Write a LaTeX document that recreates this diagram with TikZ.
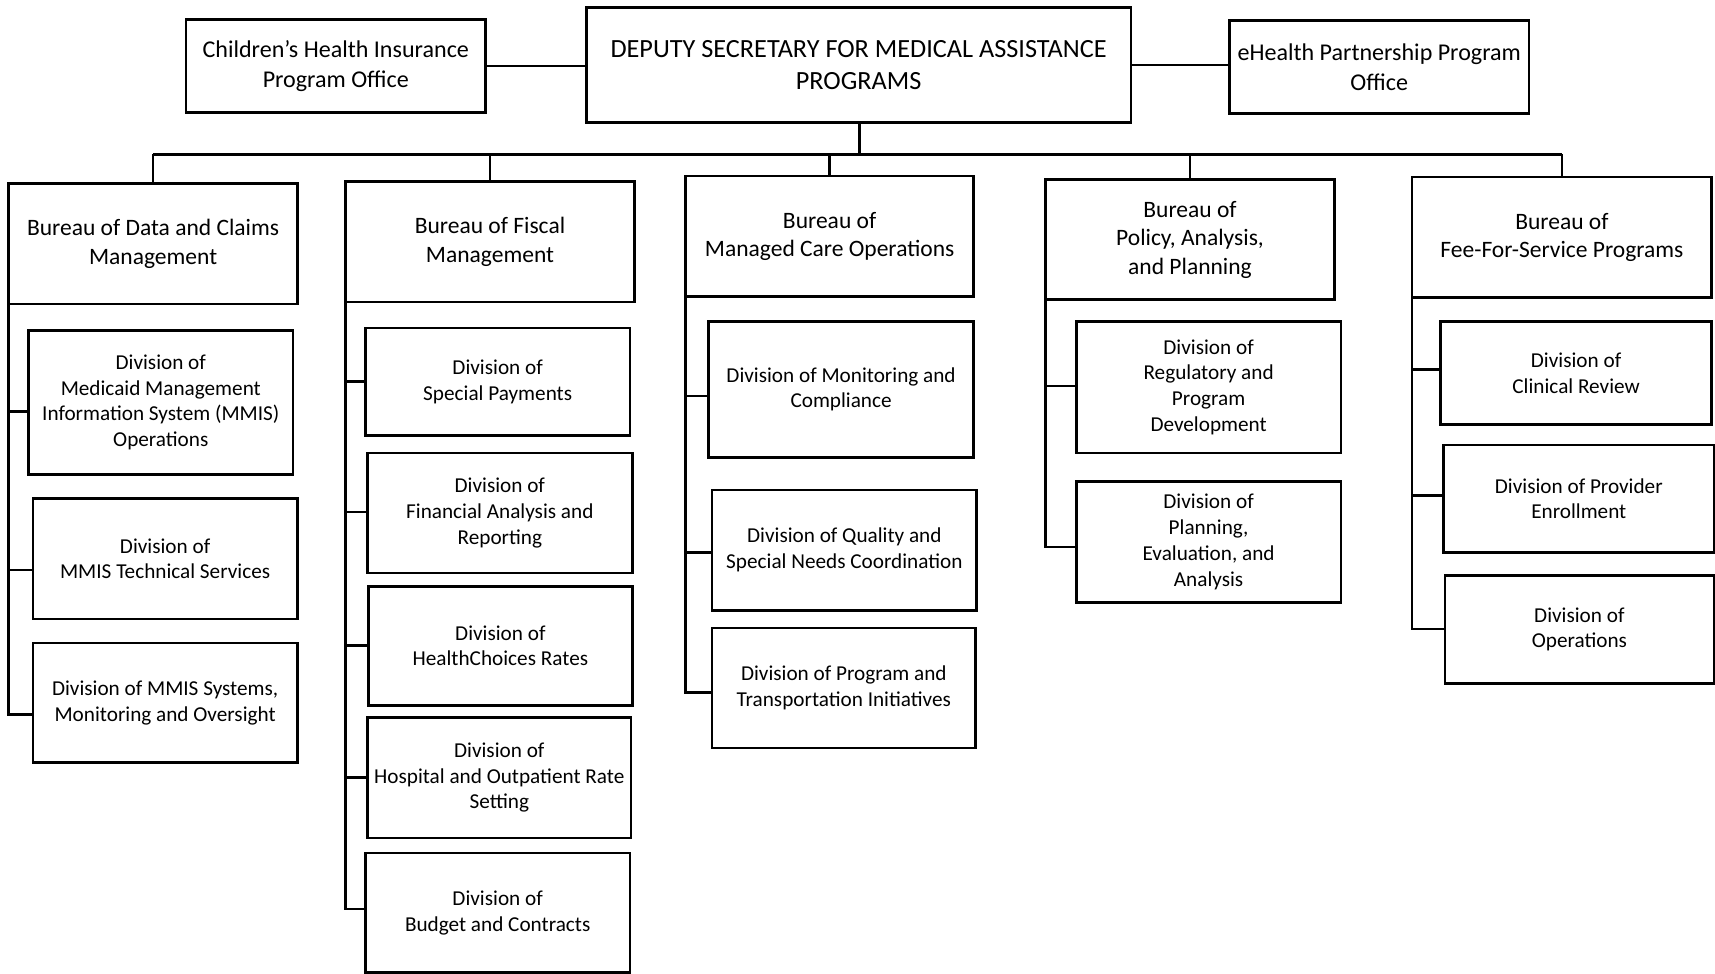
\documentclass[tikz,border=0pt]{standalone}
\usepackage{fontspec}
\setmainfont{Carlito}
\begin{document}
\begin{tikzpicture}[x=1pt,y=-1pt,
  box/.style={draw, line width=2.4pt, inner sep=0pt, outer sep=0pt, align=center},
  divbox/.style={box, font=\fontsize{19.4}{23.5}\selectfont},
  burbox/.style={box, font=\fontsize{21.5}{26}\selectfont},
  topbox/.style={box, font=\fontsize{22}{27}\selectfont},
  depbox/.style={box, font=\fontsize{24}{29}\selectfont},
  link/.style={line width=2.4pt}]
\useasboundingbox (0,0) rectangle (1568,890);
\newcommand\placebox[7]{\node[#1, minimum width={#5pt-#3pt}, minimum height={#6pt-#4pt}] (#2) at ({(#3+#5)/2},{(#4+#6)/2}) {#7};}
% top
\placebox{topbox}{chip}{170}{18}{444}{103}{Children’s Health Insurance\\Program Office}
\placebox{depbox}{dep}{536}{7}{1034}{112}{DEPUTY SECRETARY FOR MEDICAL ASSISTANCE\\PROGRAMS}
\placebox{topbox}{eh}{1124}{19}{1398}{104}{eHealth Partnership Program\\Office}
% bureaus
\placebox{burbox}{b1}{8}{168}{272}{278}{Bureau of Data and Claims\\Management}
\placebox{burbox}{b2}{316}{166}{580}{276}{Bureau of Fiscal\\Management}
\placebox{burbox}{b3}{627}{161}{890}{271}{Bureau of\\Managed Care Operations}
\placebox{burbox}{b4}{956}{164}{1220}{274}{Bureau of\\Policy, Analysis,\\and Planning}
\placebox{burbox}{b5}{1291}{162}{1565}{272}{Bureau of\\Fee-For-Service Programs}
% divisions
\placebox{divbox}{d1a}{26}{302}{268}{434}{Division of\\Medicaid Management\\Information System (MMIS)\\Operations}
\placebox{divbox}{d1b}{30}{456}{272}{566}{Division of\\MMIS Technical Services}
\placebox{divbox}{d1c}{30}{588}{272}{697}{Division of MMIS Systems,\\Monitoring and Oversight}
\placebox{divbox}{d2a}{334}{300}{576}{398}{Division of\\Special Payments}
\placebox{divbox}{d2b}{336}{414}{578}{524}{Division of\\Financial Analysis and\\Reporting}
\placebox{divbox}{d2c}{337}{536}{578}{645}{Division of\\HealthChoices Rates}
\placebox{divbox}{d2d}{336}{656}{577}{766}{Division of\\Hospital and Outpatient Rate\\Setting}
\placebox{divbox}{d2e}{334}{780}{576}{889}{Division of\\Budget and Contracts}
\placebox{divbox}{d3a}{648}{294}{890}{418}{Division of Monitoring and\\Compliance}
\placebox{divbox}{d3b}{651}{448}{893}{558}{Division of Quality and\\Special Needs Coordination}
\placebox{divbox}{d3c}{651}{574}{892}{684}{Division of Program and\\Transportation Initiatives}
\placebox{divbox}{d4a}{984}{294}{1226}{414}{Division of\\Regulatory and\\Program\\Development}
\placebox{divbox}{d4b}{984}{440}{1226}{551}{Division of\\Planning,\\Evaluation, and\\Analysis}
\placebox{divbox}{d5a}{1317}{294}{1565}{388}{Division of\\Clinical Review}
\placebox{divbox}{d5b}{1320}{407}{1567}{505}{Division of Provider\\Enrollment}
\placebox{divbox}{d5c}{1321}{526}{1567}{625}{Division of\\Operations}
% top connectors
\draw[link] (chip.east) -- (chip.east -| dep.west);
\draw[link] (dep.east) -- (dep.east -| eh.west);
\coordinate (bus) at (786,141);
\draw[link] (dep.south -| bus) -- (bus);
\draw[link] (b1.north |- bus) -- (b5.north |- bus);
\foreach \b in {b1,b2,b3,b4,b5} \draw[link] (\b.north |- bus) -- (\b.north);
% spines and ticks
\newcommand\tick[3]{\draw[link] (#1.south west |- 0,#3) -- (#2.west |- 0,#3);}
\newcommand\spine[3]{\draw[link] (#1.south west) |- (#2.west |- 0,#3);}
\spine{b1}{d1c}{653}\tick{b1}{d1a}{376}\tick{b1}{d1b}{521}
\spine{b2}{d2e}{831}\tick{b2}{d2a}{349}\tick{b2}{d2b}{468}\tick{b2}{d2c}{590}\tick{b2}{d2d}{711}
\spine{b3}{d3c}{633}\tick{b3}{d3a}{362}\tick{b3}{d3b}{505}
\spine{b4}{d4b}{500}\tick{b4}{d4a}{353}
\spine{b5}{d5c}{575}\tick{b5}{d5a}{338}\tick{b5}{d5b}{453}
\end{tikzpicture}
\end{document}
